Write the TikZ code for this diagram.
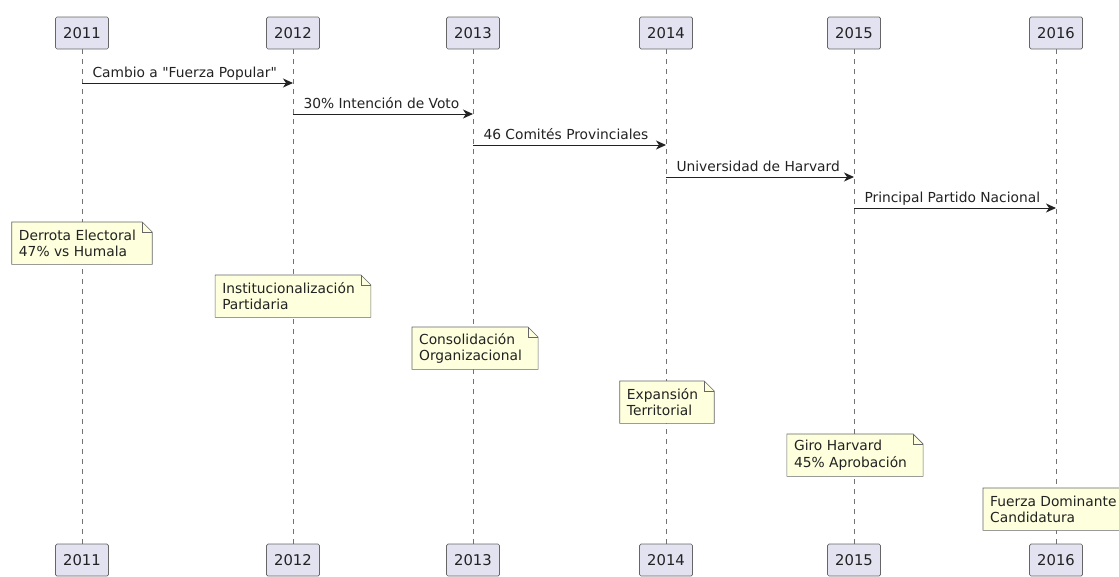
\documentclass[tikz,border=0pt]{standalone}
\usepackage{fontspec}
\setmainfont{DejaVu Sans}[Ligatures=TeXOff]
\usepackage{tikz}
\usetikzlibrary{arrows.meta,backgrounds}

\definecolor{partfill}{HTML}{E2E2F0}
\definecolor{notefill}{HTML}{FEFFDD}
\definecolor{inkgray}{HTML}{222222}

\newcommand{\yearfont}{\fontsize{14.8}{17}\selectfont}
\newcommand{\msgfont}{\fontsize{13.8}{16.5}\selectfont}

% dog-eared frame behind a note node
\newcommand{\NoteShape}[1]{%
  \begin{pgfonlayer}{background}
    \filldraw[noteframe] ([xshift=-7pt]#1.south west) -- ([xshift=-7pt]#1.north west)
      -- ([xshift=6pt]#1.north east) -- ([xshift=16pt,yshift=-10pt]#1.north east)
      -- ([xshift=16pt]#1.south east) -- cycle;
    \draw[noteframe,fill=none] ([xshift=6pt]#1.north east) |- ([xshift=16pt,yshift=-10pt]#1.north east);
  \end{pgfonlayer}}

\begin{document}
\begin{tikzpicture}[x=1pt,y=-1pt,
    year/.style={draw=black!60,line width=0.7pt,fill=partfill,rounded corners=1.5pt,
      minimum width=53pt,minimum height=32pt,inner sep=0pt,font=\yearfont,text=inkgray},
    lifeline/.style={draw=black!55,line width=0.5pt,dash pattern=on 5pt off 5pt},
    msg/.style={draw=inkgray,line width=1pt,-{Stealth[length=10pt,width=9pt,inset=3pt]}},
    lbl/.style={anchor=base west,xshift=10pt,yshift=6pt,inner sep=0pt,font=\msgfont,text=inkgray},
    note/.style={anchor=north,xshift=-4.5pt,inner xsep=0pt,inner ysep=0pt,minimum height=42pt,
      align=left,font=\msgfont,text=inkgray},
    noteframe/.style={draw=black!60,line width=0.6pt,fill=notefill}]
  \clip (0,0) rectangle (1119,576);

  % participants, top and bottom
  \node[year] (t2011) at (82,33) {2011};
  \node[year] (t2012) at (293,33) {2012};
  \node[year] (t2013) at (473,33) {2013};
  \node[year] (t2014) at (666,33) {2014};
  \node[year] (t2015) at (854,33) {2015};
  \node[year] (t2016) at (1056,33) {2016};

  \node[year] (b2011) at (82,560) {2011};
  \node[year] (b2012) at (293,560) {2012};
  \node[year] (b2013) at (473,560) {2013};
  \node[year] (b2014) at (666,560) {2014};
  \node[year] (b2015) at (854,560) {2015};
  \node[year] (b2016) at (1056,560) {2016};

  \begin{pgfonlayer}{background}
    \draw[lifeline] (t2011) -- (b2011);
    \draw[lifeline] (t2012) -- (b2012);
    \draw[lifeline] (t2013) -- (b2013);
    \draw[lifeline] (t2014) -- (b2014);
    \draw[lifeline] (t2015) -- (b2015);
    \draw[lifeline] (t2016) -- (b2016);
  \end{pgfonlayer}

  % messages
  \draw[msg] (t2011 |- 0,83) -- node[lbl,pos=0] {Cambio a "Fuerza Popular"} (t2012 |- 0,83);
  \draw[msg] (t2012 |- 0,114) -- node[lbl,pos=0] {30\% Intención de Voto} (t2013 |- 0,114);
  \draw[msg] (t2013 |- 0,145) -- node[lbl,pos=0] {46 Comités Provinciales} (t2014 |- 0,145);
  \draw[msg] (t2014 |- 0,177) -- node[lbl,pos=0] {Universidad de Harvard} (t2015 |- 0,177);
  \draw[msg] (t2015 |- 0,208) -- node[lbl,pos=0] {Principal Partido Nacional} (t2016 |- 0,208);

  % notes
  \node[note] (n2011) at (82,222) {Derrota Electoral\\47\% vs Humala};
  \NoteShape{n2011}
  \node[note] (n2012) at (293,275) {Institucionalización\\Partidaria};
  \NoteShape{n2012}
  \node[note] (n2013) at (475,327) {Consolidación\\Organizacional};
  \NoteShape{n2013}
  \node[note] (n2014) at (667,381) {Expansión\\Territorial};
  \NoteShape{n2014}
  \node[note] (n2015) at (855,434) {Giro Harvard\\45\% Aprobación};
  \NoteShape{n2015}
  \node[note,anchor=north west] (n2016) at (994.5,488) {Fuerza Dominante\\Candidatura};
  \NoteShape{n2016}
\end{tikzpicture}
\end{document}
